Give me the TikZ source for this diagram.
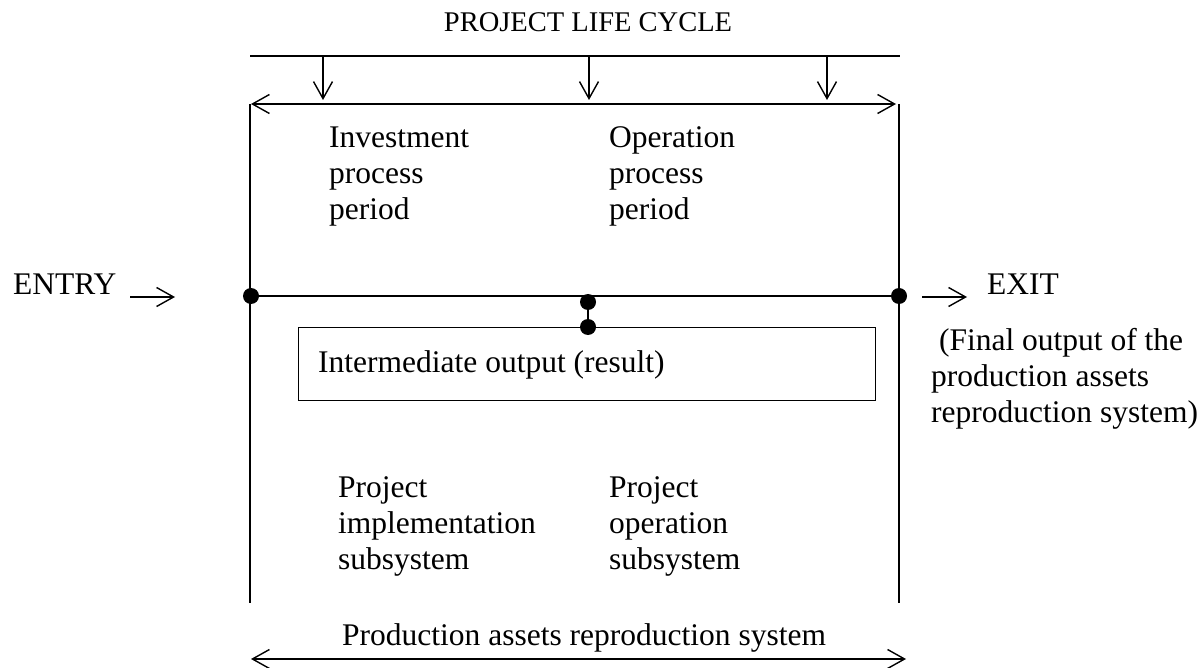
\documentclass[tikz,border=0pt]{standalone}
\usepackage{fontspec}
\setmainfont{Liberation Serif}
\usetikzlibrary{arrows.meta}
\begin{document}
\begin{tikzpicture}[x=1pt,y=-1pt,
  every node/.style={font=\fontsize{31.5}{36}\selectfont, inner sep=0pt},
  txt/.style={anchor=base west, align=left},
  ln/.style={line width=2pt},
  thin/.style={line width=1.5pt},
  barb/.style={-{Straight Barb[length=17pt,width=19pt,line width=1.4pt]}},
  dbarb/.style={{Straight Barb[length=17pt,width=19pt,line width=1.4pt]}-{Straight Barb[length=17pt,width=19pt,line width=1.4pt]}},
  dot/.style={circle, fill=black, minimum size=16pt, inner sep=0pt}]
\useasboundingbox (0,0) rectangle (1202,668);
% title and top bar
\node (title) at (588,32) [anchor=base, font=\fontsize{28.5}{34}\selectfont] {PROJECT LIFE CYCLE};
\coordinate (tl) at (250,56);
\coordinate (tr) at (900,56);
\draw[ln] (tl) -- (tr);
\coordinate (a1s) at (323,56); \coordinate (a1e) at (323,100);
\coordinate (a2s) at (589,56); \coordinate (a2e) at (589,100);
\coordinate (a3s) at (827,56); \coordinate (a3e) at (827,100);
\draw[thin,barb] (a1s) -- (a1e);
\draw[thin,barb] (a2s) -- (a2e);
\draw[thin,barb] (a3s) -- (a3e);
\coordinate (dl) at (251,104);
\coordinate (dr) at (896,104);
\draw[ln,dbarb] (dl) -- (dr);
% verticals
\coordinate (vlt) at (250,104); \coordinate (vlb) at (250,603);
\coordinate (vrt) at (899,104); \coordinate (vrb) at (899,603);
\draw[thin] (vlt) -- (vlb);
\draw[thin] (vrt) -- (vrb);
% period texts
\node (inv) at (329,220) [txt] {Investment\\process\\period};
\node (ope) at (609,220) [txt] {Operation\\process\\period};
% main line
\node (dL) at (251,296) [dot] {};
\node (dR) at (899,296) [dot] {};
\draw[ln] (dL) -- (dR);
\node (entry) at (13,295) [txt] {ENTRY};
\coordinate (ens) at (130,297); \coordinate (ene) at (175,297);
\draw[thin,barb] (ens) -- (ene);
\coordinate (exs) at (922,297); \coordinate (exe) at (967,297);
\draw[thin,barb] (exs) -- (exe);
\node (exit) at (987,295) [txt] {EXIT};
\node (final) at (931,422) [txt] {\ (Final output of the\\production assets\\reproduction system)};
% intermediate
\node (box) at (298,327) [anchor=north west, draw, line width=1.4pt, minimum width=577pt, minimum height=73pt] {};
\node (m1) at (588,302) [dot] {};
\node (m2) at (588,327) [dot] {};
\draw[ln] (m1) -- (m2);
\node (inter) at (318,372) [txt] {Intermediate output (result)};
% subsystems
\node (impl) at (338,569) [txt] {Project\\implementation\\subsystem};
\node (oper) at (609,569) [txt] {Project\\operation\\subsystem};
\node (pars) at (342,645) [txt] {Production assets reproduction system};
\coordinate (bl) at (251,659);
\coordinate (br) at (906,659);
\draw[ln,dbarb] (bl) -- (br);
\end{tikzpicture}
\end{document}
